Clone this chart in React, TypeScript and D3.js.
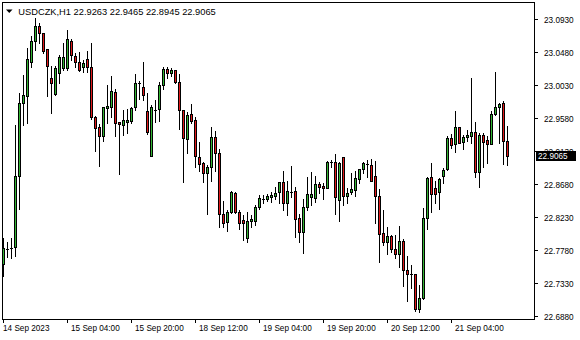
import React from "react";
import * as d3 from "d3";

const symbolTitle = "USDCZK,H1";
const open = [
  22.7589, 22.7796, 22.7809, 22.7825, 22.8789, 22.978, 22.9884, 23.0348, 23.0626, 23.0835,
  23.0735, 23.0517, 23.0121, 22.9903, 23.019, 23.0258, 23.0258, 23.063, 23.0425, 23.0348,
  23.0271, 23.038, 23.0271, 22.9598, 22.9453, 22.9339, 22.972, 22.9734, 22.9935, 22.9521,
  22.948, 22.953, 22.9539, 22.9726, 23.0057, 22.9999, 22.9675, 22.9066, 22.9691, 22.9699,
  23.0026, 23.0244, 23.019, 23.0235, 23.0071, 22.9689, 22.9298, 22.963, 22.9553, 22.9048,
  22.8962, 22.8834, 22.8916, 22.9317, 22.9099, 22.8267, 22.8166, 22.8294, 22.8557, 22.8294,
  22.8189, 22.7948, 22.8171, 22.818, 22.837, 22.847, 22.8471, 22.8507, 22.852, 22.8575,
  22.8703, 22.8417, 22.8573, 22.8585, 22.8212, 22.803, 22.8362, 22.8499, 22.8493, 22.868,
  22.8653, 22.863, 22.8974, 22.898, 22.8462, 22.9048, 22.8512, 22.8571, 22.8598, 22.8752,
  22.888, 22.8951, 22.8939, 22.8789, 22.8516, 22.8008, 22.7893, 22.7967, 22.779, 22.7721,
  22.7903, 22.7503, 22.7447, 22.7449, 22.6971, 22.7121, 22.8212, 22.8771, 22.8621, 22.8567,
  22.8789, 22.888, 22.9303, 22.9221, 22.9453, 22.9249, 22.9317, 22.9339, 22.9385, 22.8848,
  22.9344, 22.928, 22.9225, 22.963, 22.9734, 22.978, 22.9263,
];
const high = [
  22.794, 22.7893, 22.7948, 22.9485, 22.9917, 23.0166, 23.0539, 23.0698, 23.094, 23.088,
  23.0738, 23.052, 23.0289, 23.0289, 23.0439, 23.0599, 23.078, 23.0653, 23.0462, 23.0484,
  23.0371, 23.0498, 23.0599, 22.9601, 22.9494, 22.9734, 23.003, 23.0153, 22.998, 22.953,
  22.9689, 22.9699, 22.9734, 23.018, 23.0085, 23.0348, 22.9917, 22.9757, 22.9825, 23.0075,
  23.028, 23.028, 23.0258, 23.0238, 23.018, 22.9692, 22.9666, 22.9767, 22.959, 22.9253,
  22.8984, 22.8939, 22.9453, 22.9403, 22.9153, 22.8452, 22.8325, 22.8585, 22.8567, 22.8325,
  22.8257, 22.8302, 22.8257, 22.8394, 22.853, 22.853, 22.8544, 22.8575, 22.8643, 22.8706,
  22.8857, 22.8721, 22.8925, 22.8643, 22.8271, 22.8471, 22.878, 22.8844, 22.8789, 22.8711,
  22.8698, 22.8994, 22.9007, 22.9089, 22.8984, 22.9051, 22.8621, 22.8834, 22.8861, 22.8889,
  22.8984, 22.9007, 22.9017, 22.8994, 22.8612, 22.8325, 22.8094, 22.7985, 22.798, 22.8107,
  22.793, 22.7698, 22.7575, 22.7452, 22.7303, 22.8349, 22.878, 22.8962, 22.8721, 22.8766,
  22.8902, 22.9335, 22.9362, 22.9675, 22.9461, 22.9348, 22.9416, 23.0121, 22.9521, 22.9371,
  22.938, 22.9335, 22.9675, 23.0207, 22.9789, 22.9812, 22.9465,
];
const low = [
  22.743, 22.7689, 22.7667, 22.7698, 22.8339, 22.9485, 22.9508, 23.0271, 23.0507, 23.0599,
  23.0462, 22.988, 22.9652, 22.99, 23.0053, 23.0235, 23.0235, 23.0371, 23.028, 23.0225,
  23.0211, 23.0211, 22.9562, 22.9134, 22.8925, 22.9266, 22.9508, 22.9598, 22.9335, 22.8812,
  22.9344, 22.9371, 22.9508, 22.9689, 22.9835, 22.9825, 22.9362, 22.9063, 22.953, 22.9543,
  22.9971, 23.0121, 23.0153, 23.0053, 22.9426, 22.8711, 22.9107, 22.9508, 22.8916, 22.8861,
  22.8711, 22.8267, 22.8725, 22.8861, 22.8098, 22.8098, 22.8043, 22.8291, 22.8291, 22.8066,
  22.7916, 22.7885, 22.8098, 22.8121, 22.8335, 22.8417, 22.8452, 22.8439, 22.8471, 22.8425,
  22.8325, 22.8257, 22.8507, 22.7961, 22.7893, 22.7743, 22.8325, 22.8394, 22.8439, 22.8553,
  22.8475, 22.8627, 22.8916, 22.8271, 22.818, 22.8394, 22.8425, 22.8544, 22.8516, 22.869,
  22.8826, 22.878, 22.8722, 22.8144, 22.762, 22.7848, 22.7721, 22.7753, 22.7667, 22.7552,
  22.7293, 22.7089, 22.7258, 22.6952, 22.6939, 22.7118, 22.8062, 22.8302, 22.8425, 22.8339,
  22.869, 22.8877, 22.9167, 22.912, 22.9235, 22.9153, 22.927, 22.9235, 22.878, 22.8643,
  22.8916, 22.897, 22.9222, 22.9627, 22.9243, 22.8953, 22.8945,
];
const close = [
  22.7803, 22.78, 22.7813, 22.8789, 22.978, 22.9894, 23.038, 23.0626, 23.0835, 23.0735,
  23.0498, 23.0293, 23.0061, 23.0258, 23.0408, 23.0408, 23.0653, 23.0439, 23.0348, 23.0235,
  23.0326, 23.0271, 22.9598, 22.944, 22.9339, 22.9726, 22.9744, 22.9948, 22.9516, 22.9494,
  22.9553, 22.9553, 22.972, 23.0061, 23.0053, 22.989, 22.9393, 22.9726, 22.9695, 23.0026,
  23.0244, 23.019, 23.0235, 23.0075, 22.9689, 22.9303, 22.9617, 22.9543, 22.9066, 22.8949,
  22.8834, 22.8908, 22.9317, 22.9099, 22.8267, 22.8152, 22.8294, 22.8567, 22.8294, 22.8144,
  22.8152, 22.8175, 22.8199, 22.837, 22.8485, 22.8478, 22.8516, 22.853, 22.8561, 22.8703,
  22.8417, 22.8585, 22.8577, 22.8203, 22.803, 22.8362, 22.8544, 22.8544, 22.868, 22.8643,
  22.863, 22.898, 22.8978, 22.8507, 22.897, 22.852, 22.8557, 22.8612, 22.8758, 22.888,
  22.8962, 22.8955, 22.8725, 22.852, 22.7994, 22.7893, 22.7967, 22.779, 22.7721, 22.7899,
  22.7503, 22.7449, 22.7451, 22.6971, 22.7121, 22.8212, 22.8758, 22.854, 22.854, 22.8744,
  22.8867, 22.9303, 22.9208, 22.9453, 22.9243, 22.9317, 22.9348, 22.9385, 22.8848, 22.9344,
  22.9257, 22.9221, 22.963, 22.9734, 22.9767, 22.9262, 22.9065,
];
const priceTicks = [23.093, 23.048, 23.003, 22.958, 22.913, 22.868, 22.823, 22.778, 22.733, 22.688];
const timeTickBars = [0, 16, 32, 48, 64, 80, 96, 112];
const timeTickLabels = [
  "14 Sep 2023", "15 Sep 04:00", "15 Sep 20:00", "18 Sep 12:00",
  "19 Sep 04:00", "19 Sep 20:00", "20 Sep 12:00", "21 Sep 04:00",
];

const W = 580;
const H = 340;
const FONT = "'Liberation Sans', Arial, sans-serif";
const UP = "#33b533";
const DOWN = "#e0191b";

export default function App() {
  const n = close.length;
  const x = d3.scaleLinear().domain([0, n - 1]).range([3.5, 3.5 + 4 * (n - 1)]);
  const y = d3.scaleLinear().domain([22.6839, 23.1148]).range([319, 3]);
  const last = close[n - 1];
  const lastY = Math.round(y(last));
  const fmt = d3.format(".4f");

  return (
    <svg
      width={W}
      height={H}
      style={{ position: "absolute", left: 0, top: 0, background: "#fff" }}
      shapeRendering="crispEdges"
    >
      <rect x={0} y={0} width={W} height={H} fill="#fff" />
      {d3.range(n).map((i) => {
        const cx = x(i);
        const yh = Math.round(y(high[i]));
        const yl = Math.round(y(low[i]));
        const top = Math.round(y(Math.max(open[i], close[i])));
        const bot = Math.round(y(Math.min(open[i], close[i])));
        const up = close[i] >= open[i];
        return (
          <g key={i}>
            <line x1={cx} x2={cx} y1={yh} y2={yl + 1} stroke="#000" strokeWidth={1} />
            {bot - top < 1 ? (
              <line x1={cx - 1.5} x2={cx + 1.5} y1={top + 0.5} y2={top + 0.5} stroke="#000" />
            ) : (
              <rect
                x={cx - 1}
                y={top + 0.5}
                width={2}
                height={bot - top}
                fill={up ? UP : DOWN}
                stroke="#000"
                strokeWidth={1}
              />
            )}
          </g>
        );
      })}
      {/* frame */}
      <rect x={2.5} y={2.5} width={532} height={316.5} fill="none" stroke="#000" />
      {/* price axis */}
      {priceTicks.map((p) => {
        const py = Math.round(y(p)) + 0.5;
        return (
          <g key={p}>
            <line x1={535} x2={538} y1={py} y2={py} stroke="#000" />
            <text x={544} y={py + 3} fontSize={8.2} fontFamily={FONT} fill="#000">
              {fmt(p)}
            </text>
          </g>
        );
      })}
      <rect x={536} y={lastY - 5} width={40} height={10} fill="#000" />
      <text x={538} y={lastY + 3} fontSize={8.2} fontFamily={FONT} fill="#fff">
        {fmt(last)}
      </text>
      {/* time axis */}
      {timeTickBars.map((b, k) => {
        const tx = Math.floor(x(b)) + 0.5;
        return (
          <g key={b}>
            <line x1={tx} x2={tx} y1={319} y2={323} stroke="#000" />
            <text x={k === 0 ? 3 : tx + 3.5} y={331} fontSize={8.2} fontFamily={FONT} fill="#000">
              {timeTickLabels[k]}
            </text>
          </g>
        );
      })}
      {/* header */}
      <path d="M6,9.5 L12.5,9.5 L9.25,13 Z" fill="#000" shapeRendering="auto" />
      <text x={18.3} y={15} fontSize={9.3} fontFamily={FONT} fill="#000">
        {symbolTitle + "  " + [open[n - 1], high[n - 1], low[n - 1], close[n - 1]].map(fmt).join(" ")}
      </text>
    </svg>
  );
}
